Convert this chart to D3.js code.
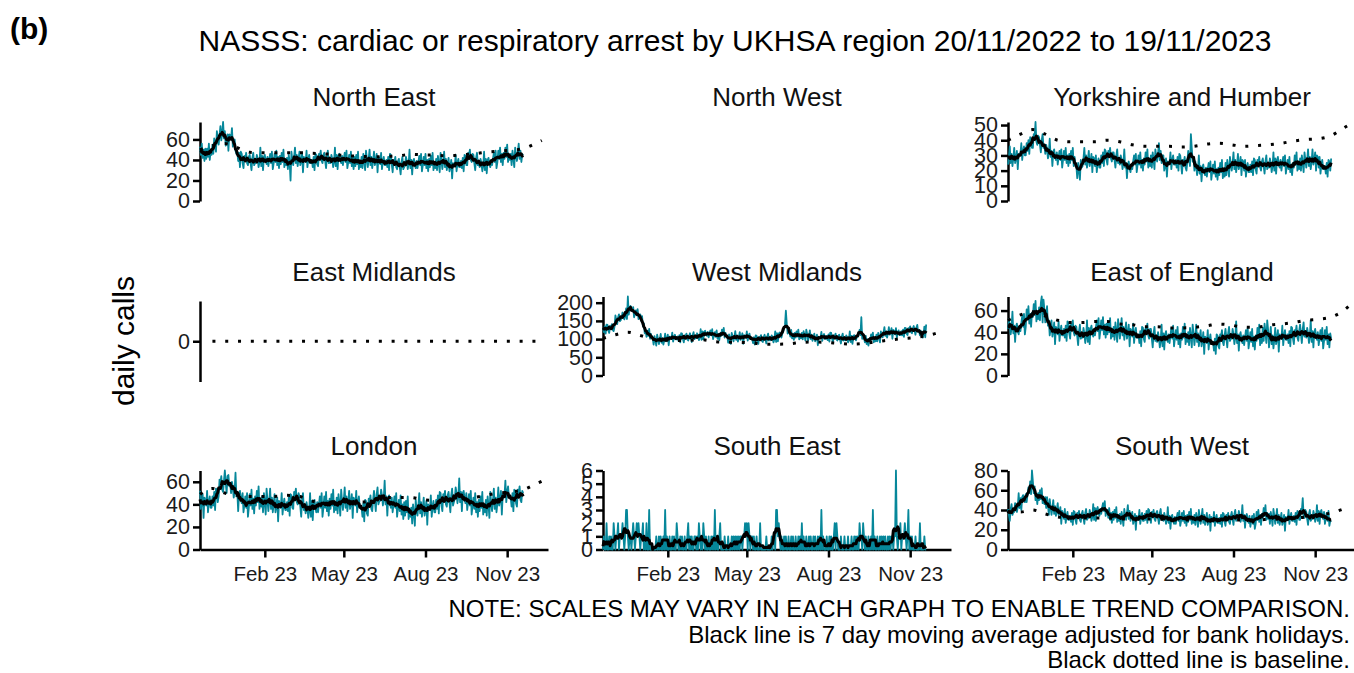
<!DOCTYPE html>
<html><head><meta charset="utf-8">
<script src="https://cdn.jsdelivr.net/npm/d3@7"></script>
<style>body{margin:0;background:#fff}</style>
</head><body><svg id="c" width="1354" height="673"></svg>
<script>
// ---------------- DATA ----------------
const startDate = "2022-11-20"; // first day of daily series (day 0)
const regionNames = ["North East","North West","Yorkshire and Humber","East Midlands","West Midlands","East of England","London","South East","South West"];

const northEast = [
53,45,56,42,50,39,51, 41,51,43,56,40,49,45, 55,46,61,56,48,68,61, 55,64,73,59,67,77,61,
68,54,57,65,49,65,64, 61,71,53,59,60,49,46, 48,39,47,33,48,46,37, 32,44,42,47,37,35,43,
45,37,30,42,47,35,37, 37,45,41,33,38,52,34, 44,30,43,45,39,36,43, 34,40,46,37,48,31,37,
46,38,49,35,43,32,44, 36,47,38,50,33,41,35, 42,31,45,38,20,48,40, 35,43,52,37,45,34,41,
48,35,39,46,28,43,41, 38,49,33,41,45,37,37, 40,33,43,30,46,45,36, 34,46,44,49,39,37,45,
47,39,32,44,49,37,39, 37,45,41,33,38,52,34, 45,31,44,46,40,37,44, 35,41,47,38,49,32,38,
45,37,48,34,42,31,43, 34,45,36,48,31,39,33, 43,32,46,39,30,49,41, 33,41,50,35,43,32,39,
48,35,39,46,28,43,41, 36,47,31,39,43,35,35, 40,33,43,30,46,45,36, 28,40,38,43,33,31,39,
41,33,26,38,43,31,33, 35,43,39,31,36,50,32, 40,26,39,41,35,32,39, 32,38,44,35,46,29,35,
43,35,46,32,40,29,41, 33,44,35,47,30,38,32, 41,30,44,37,28,47,39, 31,39,48,33,41,30,37,
42,29,33,40,22,37,35, 34,45,29,37,41,33,33, 39,32,42,29,45,44,35, 35,47,45,50,40,38,46,
45,37,30,42,47,35,37, 33,41,37,29,34,48,30, 41,27,40,42,36,33,40, 35,41,47,38,49,32,38,
49,41,52,38,46,35,47, 41,52,43,55,38,46,40, 46,35,49,42,33,52,44, 39,47,56,41,49,38,45,
46];

const yorkshireHumber = [
24,29,36,25,31,23,28, 35,25,28,33,21,31,30, 31,38,27,33,36,30,30, 38,33,40,31,42,41,35,
35,44,42,52,39,37,43, 42,37,32,40,44,35,37, 31,37,34,28,32,41,29, 33,23,32,34,29,27,32,
24,29,33,27,34,22,27, 33,27,35,25,30,23,31, 25,33,27,35,23,29,24, 23,15,25,20,14,27,22,
23,28,35,24,30,22,27, 33,23,26,31,19,29,28, 23,30,19,25,28,22,22, 30,25,32,23,34,33,27,
24,33,31,35,28,26,32, 32,27,22,30,34,25,27, 24,30,27,21,25,34,22, 25,15,24,26,21,19,24,
21,26,30,24,31,19,24, 30,24,32,22,27,20,28, 24,32,26,34,22,28,23, 30,22,32,27,21,34,29,
26,31,38,27,33,25,30, 30,20,23,28,16,26,25, 25,32,21,27,30,24,24, 27,22,29,20,31,30,24,
18,27,25,29,22,20,26, 33,28,23,44,35,26,28, 20,26,23,17,21,30,18, 23,13,22,24,19,17,22,
16,21,25,19,26,14,19, 24,18,26,16,21,14,22, 17,25,19,27,15,21,16, 25,17,27,22,16,29,24,
20,25,32,21,27,19,24, 31,21,24,29,17,27,26, 20,27,16,22,25,19,19, 24,19,26,17,28,27,21,
18,27,25,29,22,20,26, 28,23,18,26,30,21,23, 22,28,25,19,23,32,20, 28,18,27,29,24,22,27,
20,25,29,23,30,18,23, 27,21,29,19,24,17,25, 22,30,24,32,20,26,21, 28,20,30,25,19,32,27,
22,27,34,23,29,21,26, 34,24,27,32,20,30,29, 22,29,18,24,27,21,21, 23,18,25,16,27,26,20,
28];

const westMidlands = [
131,119,135,115,140,139,124, 117,136,133,141,125,122,135, 165,152,141,160,168,149,152, 160,173,167,154,162,184,155,
217,167,188,191,181,177,188, 160,170,179,165,182,155,165, 168,150,163,135,143,116,125, 106,123,109,128,101,114,104,
103,85,108,96,82,112,100, 86,99,114,90,102,85,96, 115,94,100,112,83,107,104, 101,118,93,106,112,99,99,
107,95,111,91,116,115,100, 91,110,107,115,99,96,109, 116,103,92,111,119,100,103, 103,116,110,97,105,127,98,
121,99,120,123,113,109,120, 105,115,124,110,127,100,110, 119,106,124,101,114,97,116, 109,126,112,131,104,117,107,
108,90,113,101,87,117,105, 94,107,122,98,110,93,104, 119,98,104,116,87,111,108, 104,121,96,109,115,102,102,
101,89,105,85,110,109,94, 87,106,103,111,95,92,105, 112,99,88,107,115,96,99, 97,110,104,91,99,121,92,
116,94,115,118,108,104,115, 120,130,139,178,142,115,125, 120,107,125,102,115,98,117, 104,121,107,126,99,112,102,
117,99,122,110,96,126,114, 96,109,124,100,112,95,106, 115,94,100,112,83,107,104, 103,120,95,108,114,101,101,
109,97,113,93,118,117,102, 91,110,107,115,99,96,109, 112,99,88,107,115,96,99, 97,110,104,91,99,121,92,
109,87,108,111,101,97,108, 106,116,125,111,160,101,111, 104,91,109,86,99,82,101, 96,113,99,118,91,104,94,
112,94,117,105,91,121,109, 105,118,133,109,121,104,115, 133,112,118,130,101,125,122, 113,130,105,118,124,111,111,
122,110,126,106,131,130,115, 111,130,127,135,119,116,129, 136,123,112,131,139,120,123, 110,123,117,104,112,134,105,
140];

const eastOfEngland = [
43,52,47,38,44,59,39, 46,31,45,48,41,38,45, 41,48,55,45,57,38,45, 61,52,64,48,57,45,58,
54,66,56,69,50,59,52, 63,51,67,73,49,70,61, 49,56,64,46,51,37,43, 51,36,41,49,29,45,43,
38,50,32,41,46,37,37, 43,35,46,32,50,49,39, 34,47,45,51,40,37,46, 45,36,28,41,47,34,36,
35,44,39,30,36,51,31, 44,29,43,46,39,36,43, 37,44,51,41,53,34,41, 51,42,54,38,47,35,48,
38,50,40,53,34,43,36, 45,33,49,41,31,52,43, 34,43,53,37,45,33,41, 49,34,39,47,27,43,41,
36,48,30,39,44,35,35, 38,30,41,27,45,44,34, 31,44,42,48,37,34,43, 43,34,26,39,45,32,34,
31,40,35,26,32,47,27, 39,24,38,41,34,31,38, 30,37,44,34,46,27,34, 42,33,45,29,38,26,39,
33,45,35,48,29,38,31, 40,28,44,36,26,47,38, 28,37,47,31,39,27,35, 42,27,32,40,20,36,34,
30,42,24,33,38,29,29, 31,23,34,20,38,37,27, 25,38,36,42,31,28,37, 43,34,26,39,45,32,34,
34,43,38,29,35,50,30, 38,23,37,40,33,30,37, 28,35,42,32,44,25,32, 40,31,43,27,36,24,37,
32,44,34,47,28,37,30, 44,32,48,40,30,51,42, 26,35,45,29,37,25,33, 44,29,34,42,22,38,36,
34,46,28,37,42,33,33, 38,30,41,27,45,44,34, 29,42,40,46,35,32,41, 47,38,30,43,49,36,38,
35,44,39,30,36,51,31, 41,26,40,43,36,33,40, 28,35,42,32,44,25,32, 42,33,45,29,38,26,39,
34];

const london = [
52,36,41,49,28,46,43, 39,52,33,42,47,37,37, 47,39,51,35,54,53,42, 47,62,59,65,53,51,61,
70,59,50,65,66,56,59, 50,60,55,46,52,68,47, 51,34,50,52,45,41,50, 33,40,47,37,50,29,37,
49,39,53,36,45,32,47, 39,52,42,56,36,45,38, 47,33,50,42,31,54,44, 34,43,54,36,46,33,41,
49,33,38,46,25,43,40, 37,50,31,40,45,35,35, 42,34,46,30,49,48,37, 36,51,48,54,42,40,50,
47,38,29,44,50,35,38, 32,42,37,28,34,50,29, 43,26,42,44,37,33,42, 33,40,47,37,50,29,37,
47,37,51,34,43,30,45, 36,49,39,53,33,42,35, 46,32,49,41,30,53,43, 35,44,55,37,47,34,42,
52,36,41,49,28,46,43, 39,52,33,42,47,37,37, 37,29,41,25,44,43,32, 30,45,42,48,36,34,44,
52,43,34,49,55,40,43, 43,53,48,39,45,61,40, 47,30,46,48,41,37,46, 33,40,47,37,50,29,37,
44,34,48,31,40,27,42, 30,43,33,47,27,36,29, 37,23,40,32,21,44,34, 30,39,50,32,42,29,37,
46,30,35,43,22,40,37, 35,48,29,38,43,33,33, 44,36,48,32,51,50,39, 34,49,46,52,40,38,48,
51,42,33,48,54,39,42, 45,55,50,41,47,63,42, 51,34,50,52,45,41,50, 35,42,49,39,52,31,39,
46,36,50,33,42,29,44, 34,47,37,51,31,40,33, 44,30,47,39,28,51,41, 34,43,54,36,46,33,41,
55,39,44,52,31,49,46, 48,61,42,51,56,46,46, 46,38,50,34,53,52,41, 38,53,50,56,44,42,52,
50];

const southEast = [
0,1,0,0,2,0,0, 1,0,1,0,0,2,1, 0,1,1,2,0,1,1, 1,2,1,0,1,3,3,
1,0,1,1,0,1,2, 1,0,1,2,1,2,1, 0,1,1,2,0,1,0, 2,0,0,3,0,0,0,
0,0,0,0,1,0,0, 1,0,1,0,0,1,0, 3,0,1,0,0,1,0, 0,1,0,1,0,0,2,
1,0,0,1,0,1,0, 0,1,0,0,1,2,0, 1,0,1,0,0,1,1, 0,1,0,2,1,0,1,
0,2,1,0,1,0,0, 1,0,0,1,0,1,0, 3,0,1,0,0,1,2, 0,0,0,0,1,0,0,
0,1,0,0,0,1,0, 1,0,1,0,1,0,1, 0,1,1,0,1,1,2, 1,2,0,2,1,0,1,
1,0,1,0,0,1,0, 0,0,2,0,0,0,0, 0,0,1,0,0,0,0, 0,1,0,1,1,0,3,
3,1,2,1,0,1,0, 0,1,0,1,0,0,1, 0,0,1,0,1,0,0, 1,0,0,1,0,1,0,
2,0,1,0,0,1,0, 0,1,0,1,0,0,1, 0,1,0,0,1,0,1, 0,3,0,1,0,0,0,
1,0,0,1,0,1,0, 0,1,2,0,2,1,0, 0,0,1,0,0,0,1, 0,0,0,1,0,0,0,
1,0,0,1,0,1,0, 1,0,2,1,1,0,2, 1,0,1,0,0,1,0, 0,1,0,3,0,1,0,
0,1,0,0,1,0,1, 0,1,0,1,0,0,1, 0,1,0,1,1,0,1, 1,6,1,0,1,1,2,
0,1,1,1,2,1,0, 1,3,0,1,0,1,0, 0,0,1,0,0,0,0, 2,0,0,0,0,1,0,
0];

const southWest = [
41,35,29,41,46,35,38, 38,47,44,38,43,57,42, 52,40,53,55,50,48,56, 48,56,63,57,69,56,80,
69,57,64,50,56,46,57, 50,60,51,62,47,53,46, 53,42,53,45,35,51,43, 35,42,50,36,44,34,40,
47,35,38,43,26,39,36, 31,41,27,34,38,30,30, 34,28,37,25,39,38,30, 26,37,35,39,30,28,36,
39,32,26,37,41,30,32, 32,40,36,29,33,46,30, 42,29,41,43,37,34,41, 36,42,47,39,49,34,39,
40,32,42,30,37,27,38, 30,40,32,43,28,35,29, 36,26,38,32,24,41,34, 30,37,45,31,39,29,35,
38,26,30,36,20,34,32, 30,40,26,33,37,29,29, 36,30,39,27,41,40,32, 27,38,36,40,31,29,37,
39,32,26,37,41,30,32, 29,37,33,26,30,43,27, 34,21,33,35,29,26,33, 26,32,37,29,39,24,29,
37,29,39,27,34,24,35, 28,38,30,41,26,33,27, 35,25,37,31,23,40,33, 26,33,41,27,35,25,31,
37,25,29,35,19,33,31, 28,38,24,31,35,27,27, 32,26,35,23,37,36,28, 24,35,33,37,28,26,34,
38,31,25,36,40,29,31, 31,39,35,28,32,45,29, 35,22,34,36,30,27,34, 23,29,34,26,36,21,26,
38,30,40,28,35,25,36, 32,42,34,45,30,37,31, 36,26,38,32,24,41,34, 26,33,41,27,35,25,31,
37,25,29,35,19,33,31, 30,40,26,33,37,29,29, 34,28,37,25,39,38,30, 30,41,39,52,34,32,40,
38,31,25,36,40,29,31, 31,39,35,28,32,45,29, 39,26,38,40,34,31,38, 26,32,37,29,39,24,29,
28];

// baseline: one value per listed day offset from startDate
const baselineDays = [0,14,28,42,56,70,84,98,112,126,140,154,168,182,196,210,224,238,252,266,280,294,308,322,336,350,364,378,385];
const baselineNorthEast = [50,54,56,52,47.5,47,47,47,47,46.5,46,45,44,43.5,43,43.5,44,45.5,45,44.5,44,45,46,47.5,48.5,49.5,51,56,59];
const baselineYorkshire = [40,44,47,44,40,39,39,39,40,39,37,36,36,36,35.5,36,37.5,38,37,36,36.5,37,38,39.5,40.5,41,43,48,50.5];
const baselineEastMidlands = [null,0,0,0,0,0,0,0,0,0,0,0,0,0,0,0,0,0,0,0,0,0,0,0,0,0,0,0,0];
const baselineWestMidlands = [102,112,119,110,100,97,96,97,98,93,91,91,89,86,86,87,91,92,91,88,86,88,93,97,101,104,109,118,124];
const baselineEastOfEngland = [51,56,59,55,51,49,49,50,50,47.5,47,45,45,44,44,44.5,46,47.5,46.5,44.5,44.5,46.5,47.5,49,51,52,54,60,64.7];
const baselineLondon = [49,54,50,48,47,47,47,48,47,43,41,41,42,42,44,46,46,46,44,43.5,44,44,46,48,50,51,53,58,60.5];
const baselineSouthWest = [38,38,40,36,33,32,32,32,32,31,31,31,31,30,30,30,30,30,30,30,30,30.5,31,32,33,35,37,41,43];

// tick labels
const yTicksNorthEast = [0,20,40,60];
const yTicksYorkshire = [0,10,20,30,40,50];
const yTicksEastMidlands = [0];
const yTicksWestMidlands = [0,50,100,150,200];
const yTicksEastOfEngland = [0,20,40,60];
const yTicksLondon = [0,20,40,60];
const yTicksSouthEast = [0,1,2,3,4,5,6];
const yTicksSouthWest = [0,20,40,60,80];
const xTickDates = ["2023-02-01","2023-05-01","2023-08-01","2023-11-01"];
const xTickLabels = ["Feb 23","May 23","Aug 23","Nov 23"];

const titleText = "NASSS: cardiac or respiratory arrest by UKHSA region 20/11/2022 to 19/11/2023";
const noteLines = ["NOTE: SCALES MAY VARY IN EACH GRAPH TO ENABLE TREND COMPARISON.",
  "Black line is 7 day moving average adjusted for bank holidays.",
  "Black dotted line is baseline."];

// ---------------- DRAWING ----------------
const svg = d3.select("#c");
const FONT = "'Liberation Sans', Arial, Helvetica, sans-serif";
const TEAL = "#06879a";
const parse = d3.utcParse("%Y-%m-%d");
const t0 = parse(startDate);
const dayDate = i => d3.utcDay.offset(t0, i);
const xEnd = d3.utcDay.offset(t0, 392);

const colX = [200, 603, 1008], panelW = 348;
const rowBottom = [201, 375.5, 549.5], panelH = 79;

const panels = [
  {daily: northEast, base: baselineNorthEast, ticks: yTicksNorthEast},
  {daily: null, base: null, ticks: null},
  {daily: yorkshireHumber, base: baselineYorkshire, ticks: yTicksYorkshire},
  {daily: null, base: baselineEastMidlands, ticks: yTicksEastMidlands},
  {daily: westMidlands, base: baselineWestMidlands, ticks: yTicksWestMidlands},
  {daily: eastOfEngland, base: baselineEastOfEngland, ticks: yTicksEastOfEngland},
  {daily: london, base: baselineLondon, ticks: yTicksLondon},
  {daily: southEast, base: null, ticks: yTicksSouthEast},
  {daily: southWest, base: baselineSouthWest, ticks: yTicksSouthWest}
];

function movingAverage(a) {
  return a.map((v, i) => d3.mean(a.slice(Math.max(0, i - 3), Math.min(a.length, i + 4))));
}

svg.append("text").attr("x", 10).attr("y", 39).attr("font-family", FONT)
  .attr("font-weight", "bold").attr("font-size", 30).attr("fill", "#000").text("(b)");
svg.append("text").attr("x", 735).attr("y", 51).attr("text-anchor", "middle")
  .attr("font-family", FONT).attr("font-size", 30).attr("fill", "#000").text(titleText);
svg.append("text").attr("transform", "translate(134,341) rotate(-90)").attr("text-anchor", "middle")
  .attr("font-family", FONT).attr("font-size", 30).attr("fill", "#000").text("daily calls");
noteLines.forEach((t, i) => {
  svg.append("text").attr("x", 1350).attr("y", 617 + i * 25.5).attr("text-anchor", "end")
    .attr("font-family", FONT).attr("font-size", 24).attr("fill", "#000").text(t);
});

panels.forEach((p, k) => {
  const col = k % 3, row = Math.floor(k / 3);
  const x0 = colX[col], yb = rowBottom[row];
  const g = svg.append("g");
  const x = d3.scaleUtc().domain([t0, xEnd]).range([x0, x0 + panelW]);

  g.append("text").attr("x", x0 + panelW / 2).attr("y", yb - panelH - 16)
    .attr("text-anchor", "middle").attr("font-family", FONT).attr("font-size", 26)
    .attr("fill", "#111").text(regionNames[k]);

  if (!p.ticks) return;

  let y;
  if (p.daily) {
    const vals = p.daily.concat(p.base ? p.base.filter(v => v != null) : []);
    y = d3.scaleLinear().domain([0, d3.max(vals)]).range([yb, yb - panelH]);
  } else {
    y = d3.scaleLinear().domain([-1, 1]).range([yb + 6, yb - panelH + 4.5]);
  }

  // y axis
  const ya = g.append("g").attr("transform", `translate(${x0},0)`)
    .call(d3.axisLeft(y).tickValues(p.ticks).tickFormat(d3.format("d"))
      .tickSize(7).tickSizeOuter(0).tickPadding(3));
  ya.select(".domain").attr("stroke", "#000").attr("stroke-width", 2.5);
  ya.selectAll(".tick line").attr("stroke", "#000").attr("stroke-width", 2.5);
  ya.selectAll(".tick text").attr("font-family", FONT).attr("font-size", 21.5).attr("fill", "#1a1a1a");

  // x axis (bottom row only)
  if (row === 2) {
    const xa = g.append("g").attr("transform", `translate(0,${yb})`)
      .call(d3.axisBottom(x).tickValues(xTickDates.map(parse))
        .tickFormat((d, i) => xTickLabels[i]).tickSize(8).tickSizeOuter(0).tickPadding(9));
    xa.select(".domain").attr("stroke", "#000").attr("stroke-width", 2.5);
    xa.selectAll(".tick line").attr("stroke", "#000").attr("stroke-width", 2.5);
    xa.selectAll(".tick text").attr("font-family", FONT).attr("font-size", 20.5).attr("fill", "#1a1a1a");
  }

  if (p.daily) {
    const line = d3.line().x((d, i) => x(dayDate(i))).y(d => y(d));
    g.append("path").datum(p.daily).attr("d", line).attr("fill", "none")
      .attr("stroke", TEAL).attr("stroke-width", 1.8).attr("stroke-linejoin", "round");
    g.append("path").datum(movingAverage(p.daily)).attr("d", line).attr("fill", "none")
      .attr("stroke", "#000").attr("stroke-width", 3).attr("stroke-linejoin", "round");
  }
  if (p.base) {
    const bl = d3.line().defined(d => d != null)
      .x((d, i) => x(dayDate(baselineDays[i]))).y(d => y(d)).curve(d3.curveMonotoneX);
    g.append("path").datum(p.base).attr("d", bl).attr("fill", "none")
      .attr("stroke", "#000").attr("stroke-width", 3).attr("stroke-dasharray", "3 9.8");
  }
});
</script>
</body></html>
